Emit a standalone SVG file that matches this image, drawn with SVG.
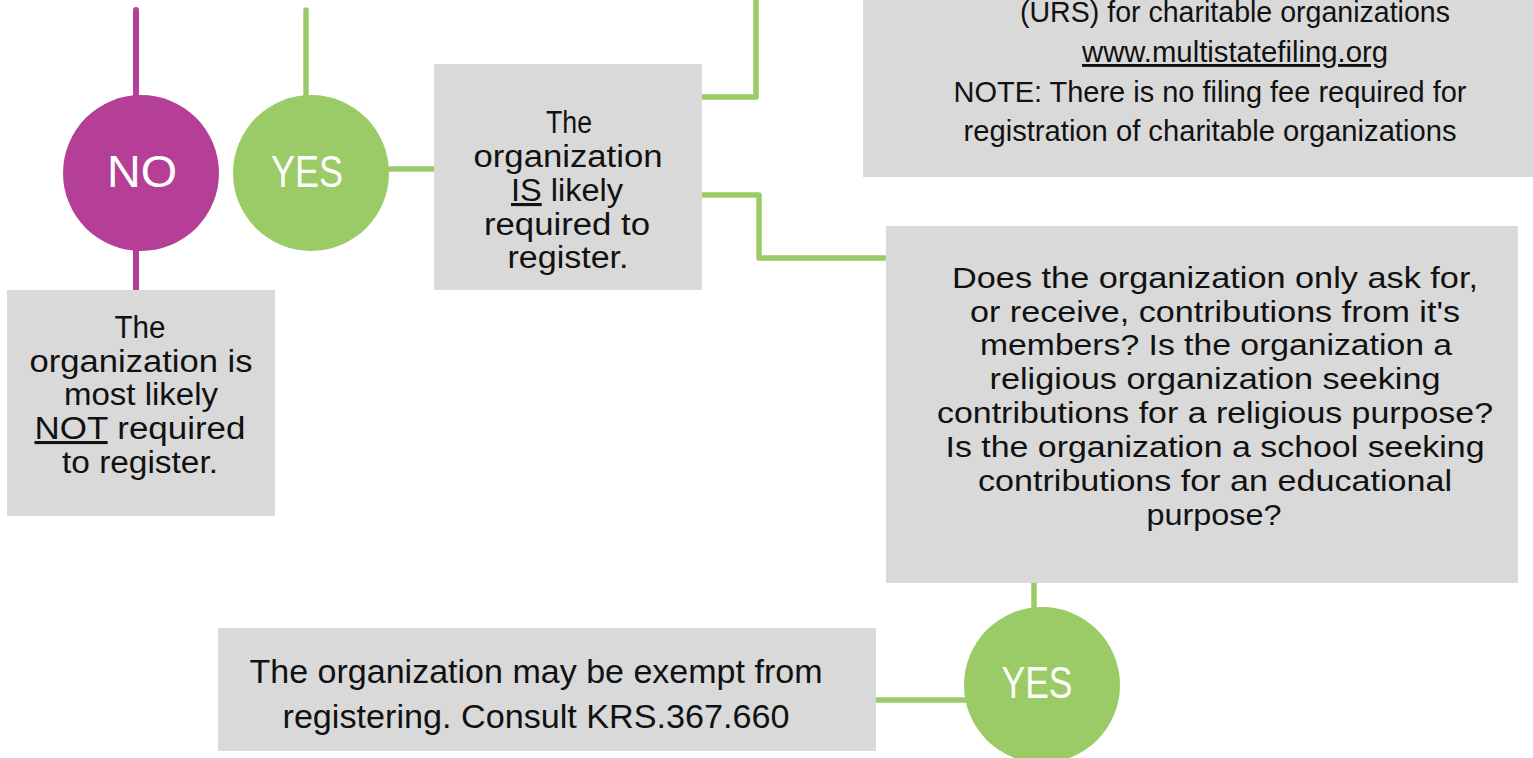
<svg xmlns="http://www.w3.org/2000/svg" width="1533" height="758" viewBox="0 0 1533 758">
<style>
.box{fill:#D9D9D9;}
.t{font-family:"Liberation Sans",Arial,sans-serif;fill:#111;text-anchor:middle;}
.c{font-family:"Liberation Sans",Arial,sans-serif;fill:#fff;text-anchor:middle;font-size:44px;}
.g{stroke:#9BCB67;stroke-width:5.5;fill:none;stroke-linejoin:round;}
.m{stroke:#B53F96;stroke-width:6;fill:none;}
.u{text-decoration:underline;}
</style>
<rect width="1533" height="758" fill="#fff"/>
<g id="connectors">
<line class="m" x1="136" y1="10" x2="136" y2="100" stroke-linecap="round"/>
<line class="m" x1="136" y1="245" x2="136" y2="290"/>
<line class="g" x1="306" y1="10" x2="306" y2="100" stroke-linecap="round"/>
<line class="g" x1="385" y1="169" x2="434" y2="169"/>
<polyline class="g" points="702,97 756,97 756,-5"/>
<polyline class="g" points="702,195 759,195 759,258 886,258"/>
<line class="g" x1="1034" y1="583" x2="1034" y2="612"/>
<line class="g" x1="876" y1="700" x2="968" y2="700"/>
</g>
<g id="no1">
<circle cx="141" cy="173" r="78" fill="#B53F96"/>
<text class="c" x="142" y="187" textLength="70" lengthAdjust="spacingAndGlyphs">NO</text>
</g>
<g id="yes1">
<circle cx="311" cy="173" r="78" fill="#9BCB67"/>
<text class="c" x="307" y="187" textLength="72" lengthAdjust="spacingAndGlyphs">YES</text>
</g>
<g id="yes2">
<circle cx="1042" cy="685" r="78" fill="#9BCB67"/>
<text class="c" x="1037" y="698" textLength="71" lengthAdjust="spacingAndGlyphs">YES</text>
</g>
<g id="box-not">
<rect class="box" x="7" y="290" width="268" height="226"/>
<g class="t" font-size="31">
<text x="140" y="338" textLength="51" lengthAdjust="spacingAndGlyphs">The</text>
<text x="141" y="372" textLength="223" lengthAdjust="spacingAndGlyphs">organization is</text>
<text x="141" y="405" textLength="154" lengthAdjust="spacingAndGlyphs">most likely</text>
<text x="140" y="439" textLength="211" lengthAdjust="spacingAndGlyphs"><tspan class="u">NOT</tspan> required</text>
<text x="140" y="473" textLength="156" lengthAdjust="spacingAndGlyphs">to register.</text>
</g>
</g>
<g id="box-is">
<rect class="box" x="434" y="64" width="268" height="226"/>
<g class="t" font-size="31">
<text x="569" y="133" textLength="46" lengthAdjust="spacingAndGlyphs">The</text>
<text x="568" y="167" textLength="189" lengthAdjust="spacingAndGlyphs">organization</text>
<text x="567" y="201" textLength="112" lengthAdjust="spacingAndGlyphs"><tspan class="u">IS</tspan> likely</text>
<text x="567" y="235" textLength="166" lengthAdjust="spacingAndGlyphs">required to</text>
<text x="568" y="268" textLength="121" lengthAdjust="spacingAndGlyphs">register.</text>
</g>
</g>
<g id="box-urs">
<rect class="box" x="863" y="-10" width="680" height="187"/>
<g class="t" font-size="29">
<text x="1235" y="22" textLength="430" lengthAdjust="spacingAndGlyphs">(URS) for charitable organizations</text>
<text x="1235" y="62" textLength="306" lengthAdjust="spacingAndGlyphs"><tspan class="u">www.multistatefiling.org</tspan></text>
<text x="1210" y="102" textLength="513" lengthAdjust="spacingAndGlyphs">NOTE: There is no filing fee required for</text>
<text x="1210" y="141" textLength="493" lengthAdjust="spacingAndGlyphs">registration of charitable organizations</text>
</g>
</g>
<g id="box-question">
<rect class="box" x="886" y="226" width="632" height="357"/>
<g class="t" font-size="30">
<text x="1215" y="288" textLength="526" lengthAdjust="spacingAndGlyphs">Does the organization only ask for,</text>
<text x="1215" y="322" textLength="490" lengthAdjust="spacingAndGlyphs">or receive, contributions from it's</text>
<text x="1216" y="355" textLength="472" lengthAdjust="spacingAndGlyphs">members? Is the organization a</text>
<text x="1215" y="389" textLength="451" lengthAdjust="spacingAndGlyphs">religious organization seeking</text>
<text x="1215" y="423" textLength="556" lengthAdjust="spacingAndGlyphs">contributions for a religious purpose?</text>
<text x="1215" y="457" textLength="539" lengthAdjust="spacingAndGlyphs">Is the organization a school seeking</text>
<text x="1215" y="491" textLength="474" lengthAdjust="spacingAndGlyphs">contributions for an educational</text>
<text x="1214" y="525" textLength="135" lengthAdjust="spacingAndGlyphs">purpose?</text>
</g>
</g>
<g id="box-exempt">
<rect class="box" x="218" y="628" width="658" height="123"/>
<g class="t" font-size="34">
<text x="536" y="683" textLength="573" lengthAdjust="spacingAndGlyphs">The organization may be exempt from</text>
<text x="536" y="728" textLength="507" lengthAdjust="spacingAndGlyphs">registering. Consult KRS.367.660</text>
</g>
</g>
</svg>
